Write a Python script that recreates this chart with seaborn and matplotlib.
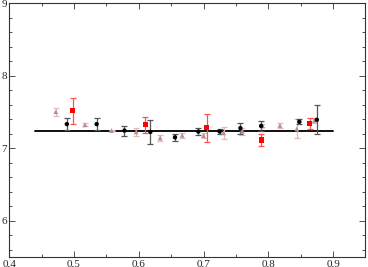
import numpy as np
import pandas as pd
import matplotlib
matplotlib.use("Agg")
import matplotlib.pyplot as plt
import seaborn as sns
from matplotlib.ticker import MultipleLocator, FuncFormatter

# serie negra (circulos)
x_negro = [0.489, 0.535, 0.578, 0.618, 0.656, 0.692, 0.725, 0.757, 0.789, 0.848, 0.875]
y_negro = [7.335, 7.335, 7.246, 7.228, 7.153, 7.233, 7.233, 7.280, 7.310, 7.367, 7.395]
e_negro = [0.08, 0.08, 0.07, 0.17, 0.05, 0.045, 0.03, 0.075, 0.075, 0.035, 0.20]

# serie roja (cuadrados)
x_rojo = [0.498, 0.610, 0.705, 0.789, 0.864]
y_rojo = [7.521, 7.326, 7.284, 7.116, 7.349]
e_rojo = [0.18, 0.11, 0.19, 0.085, 0.075]

# serie rosa (triangulos)
x_rosa = [0.472, 0.517, 0.558, 0.596, 0.633, 0.667, 0.700, 0.731, 0.760, 0.791, 0.818, 0.844, 0.871]
y_rosa = [7.507, 7.326, 7.246, 7.228, 7.144, 7.181, 7.177, 7.215, 7.237, 7.310, 7.316, 7.27, 7.386]
e_rosa = [0.055, 0.02, 0.01, 0.05, 0.04, 0.035, 0.03, 0.08, 0.05, 0.02, 0.03, 0.13, 0.04]

# ajuste constante
x_ajuste = [0.44, 0.90]
y_ajuste = [7.246, 7.246]

sns.set_style("ticks")
plt.rcParams['font.family'] = ['Liberation Serif', 'DejaVu Serif']

fig = plt.figure(figsize=(3.68, 2.67), dpi=100)
ax = fig.add_axes([0.025, 0.037, 0.968, 0.95])

ax.plot(x_ajuste, [v - 0.012 for v in y_ajuste], color="#c8c8c8", lw=1.2, zorder=1)
sns.lineplot(x=x_ajuste, y=y_ajuste, color="black", lw=1.3, ax=ax, zorder=2)

ax.errorbar(x_rosa, y_rosa, yerr=e_rosa, fmt="none", ecolor="#e2bcbc", elinewidth=0.9, capsize=2.5, capthick=0.9, zorder=3)
ax.errorbar(x_negro, y_negro, yerr=e_negro, fmt="none", ecolor="#555555", elinewidth=0.9, capsize=2.5, capthick=0.9, zorder=4)
ax.errorbar(x_rojo, y_rojo, yerr=e_rojo, fmt="none", ecolor="#ff5050", elinewidth=0.9, capsize=2.5, capthick=0.9, zorder=5)

sns.scatterplot(x=x_rosa, y=y_rosa, marker="^", s=12, color="#b89090", edgecolor="none", ax=ax, zorder=6)
sns.scatterplot(x=x_negro, y=y_negro, marker="o", s=10, color="black", edgecolor="none", ax=ax, zorder=7)
sns.scatterplot(x=x_rojo, y=y_rojo, marker="s", s=14, color="#ff0000", edgecolor="none", ax=ax, zorder=8)

ax.set_xlim(0.4, 0.95)
ax.set_ylim(5.5, 9)
ax.xaxis.set_major_locator(MultipleLocator(0.1))
ax.xaxis.set_minor_locator(MultipleLocator(0.05))
ax.yaxis.set_major_locator(MultipleLocator(1))
ax.yaxis.set_minor_locator(MultipleLocator(0.2))
ax.xaxis.set_major_formatter(FuncFormatter(lambda v, p: f"{v:.1f}".replace(".", ",")))
ax.yaxis.set_major_formatter(FuncFormatter(lambda v, p: f"{v:.0f}"))
ax.tick_params(which="both", direction="in", top=True, right=True, labelsize=8, width=0.6, color="#333333", pad=1.5)
ax.tick_params(which="major", length=4.5)
ax.tick_params(which="minor", length=2.5)
for s in ax.spines.values():
    s.set_linewidth(0.8)
    s.set_color("#333333")

fig.savefig("out.png", dpi=100)
